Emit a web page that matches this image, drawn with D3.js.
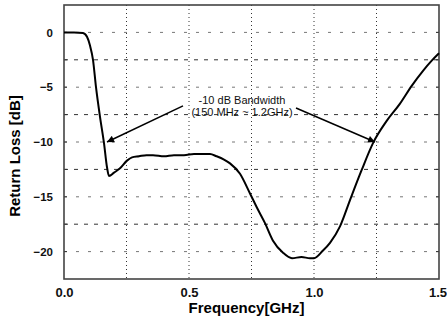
<!DOCTYPE html>
<html>
<head>
<meta charset="utf-8">
<script src="https://cdn.jsdelivr.net/npm/d3@7"></script>
<style>
  body { margin: 0; background: #fff; }
  text { font-family: "Liberation Sans", Arial, sans-serif; }
</style>
</head>
<body>
<div id="chart"></div>
<script>
const freq = [0, 0.04, 0.076, 0.092, 0.104, 0.116, 0.128, 0.144, 0.16, 0.172, 0.18, 0.2, 0.224, 0.252, 0.272,
    0.30, 0.33, 0.356, 0.40, 0.44, 0.48, 0.52, 0.56, 0.584, 0.61, 0.64, 0.664, 0.704, 0.744, 0.772, 0.804,
    0.836, 0.876, 0.912, 0.95, 0.984, 1.0, 1.036, 1.064, 1.104, 1.144, 1.19, 1.236, 1.29, 1.344, 1.39, 1.436, 1.47, 1.5]
const returnLoss = [0, 0, -0.05, -0.4, -1.2, -2.5, -5, -7.7, -10.1, -12.3, -13.1, -12.8, -12.4, -11.7, -11.4,
    -11.3, -11.2, -11.2, -11.3, -11.2, -11.2, -11.1, -11.1, -11.1, -11.3, -11.6, -11.95, -12.9, -14.7, -16.0, -17.4,
    -19.0, -20.1, -20.6, -20.5, -20.6, -20.6, -19.9, -19.2, -17.7, -15.3, -12.6, -10.1, -8.1, -6.5, -4.9, -3.5, -2.6, -1.9]

const xTicks = [0, 0.5, 1.0, 1.5]
const xGrid = [0.25, 0.5, 0.75, 1.0, 1.25]
const yTicks = [0, -5, -10, -15, -20]
const yMinorGrid = [-2.5, -7.5, -12.5, -17.5]

const annoLines = ["-10 dB Bandwidth", "(150 MHz ~ 1.2GHz)"]
// arrows: [fromF, fromDb, toF, toDb]
const arrows = [[0.476, -6.7, 0.172, -10], [0.928, -6.9, 1.244, -10]]

const margin = { top: 5, right: 8, bottom: 50, left: 64 },
    width = 447 - margin.left - margin.right,
    height = 329 - margin.top - margin.bottom;

const svg = d3.select("#chart")
    .append("svg")
    .attr("width", width + margin.left + margin.right)
    .attr("height", height + margin.top + margin.bottom)
    .append("g")
    .attr("transform", "translate(" + margin.left + "," + margin.top + ")");

const x = d3.scaleLinear().domain([0, 1.5]).range([0, width])
const y = d3.scaleLinear().domain([-22.5, 2.5]).range([height, 0])

// grid
svg.selectAll(".vgrid").data(xGrid).enter().append("line")
    .attr("x1", d => x(d)).attr("x2", d => x(d))
    .attr("y1", 0).attr("y2", height)
    .attr("stroke", "#333").attr("stroke-width", 1)
    .attr("stroke-dasharray", "1,3")
svg.selectAll(".hgrid").data(yTicks).enter().append("line")
    .attr("x1", 0).attr("x2", width)
    .attr("y1", d => y(d)).attr("y2", d => y(d))
    .attr("stroke", "#777").attr("stroke-width", 1)
    .attr("stroke-dasharray", "3,9")
svg.selectAll(".hgrid2").data(yMinorGrid).enter().append("line")
    .attr("x1", 0).attr("x2", width)
    .attr("y1", d => y(d)).attr("y2", d => y(d))
    .attr("stroke", "#333").attr("stroke-width", 1)
    .attr("stroke-dasharray", "4,6")

// axes
const yAxis = svg.append("g")
    .call(d3.axisLeft(y).tickValues(yTicks).tickSize(0).tickPadding(11).tickFormat(d3.format("d")))
yAxis.select(".domain").remove()
yAxis.selectAll("text").attr("font-size", 11.5).attr("font-weight", "bold").attr("fill", "#111")

const xAxis = svg.append("g")
    .attr("transform", `translate(0, ${height})`)
    .call(d3.axisBottom(x).tickValues(xTicks).tickSize(0).tickPadding(9).tickFormat(d3.format(".1f")))
xAxis.select(".domain").remove()
xAxis.selectAll("text").attr("font-size", 13).attr("font-weight", "bold").attr("fill", "#111")
// last label sits against the right edge
xAxis.selectAll("text").filter(d => d === 1.5).attr("dx", "-1.5")

// inner ticks on both sides
const sideTicks = yTicks.concat(yMinorGrid)
svg.selectAll(".ltick").data(sideTicks).enter().append("line")
    .attr("x1", 0).attr("x2", 3).attr("y1", d => y(d)).attr("y2", d => y(d))
    .attr("stroke", "#333")
svg.selectAll(".rtick").data(sideTicks).enter().append("line")
    .attr("x1", width - 3).attr("x2", width).attr("y1", d => y(d)).attr("y2", d => y(d))
    .attr("stroke", "#333")

// frame
svg.append("rect")
    .attr("width", width).attr("height", height)
    .attr("fill", "none").attr("stroke", "#444").attr("stroke-width", 1.6)

// curve
const points = freq.map((f, i) => [f, returnLoss[i]])
svg.append("path")
    .datum(points)
    .attr("fill", "none")
    .attr("stroke", "#000")
    .attr("stroke-width", 2)
    .attr("d", d3.line().x(d => x(d[0])).y(d => y(d[1])).curve(d3.curveMonotoneX))

// annotation
svg.append("defs").append("marker")
    .attr("id", "arrow")
    .attr("viewBox", "0 0 10 10")
    .attr("refX", 10).attr("refY", 5)
    .attr("markerWidth", 9).attr("markerHeight", 7)
    .attr("markerUnits", "userSpaceOnUse")
    .attr("orient", "auto")
    .append("path").attr("d", "M0,0L10,5L0,10z").attr("fill", "#000")

svg.selectAll(".arrow").data(arrows).enter().append("line")
    .attr("x1", d => x(d[0])).attr("y1", d => y(d[1]))
    .attr("x2", d => x(d[2])).attr("y2", d => y(d[3]))
    .attr("stroke", "#000").attr("stroke-width", 1.5)
    .attr("marker-end", "url(#arrow)")

svg.selectAll(".anno").data(annoLines).enter().append("text")
    .attr("x", x(0.712))
    .attr("y", (d, i) => y(-6.5) + i * 12)
    .attr("text-anchor", "middle")
    .attr("font-size", 11)
    .attr("fill", "#111")
    .text(d => d)

// axis titles
svg.append("text")
    .attr("x", width / 2 - 5)
    .attr("y", height + 34)
    .attr("text-anchor", "middle")
    .attr("font-size", 15)
    .attr("font-weight", "bold")
    .text("Frequency[GHz]")

svg.append("text")
    .attr("transform", `translate(${-margin.left + 20}, ${height / 2 + 14}) rotate(-90)`)
    .attr("text-anchor", "middle")
    .attr("font-size", 15)
    .attr("font-weight", "bold")
    .text("Return Loss [dB]")
</script>
</body>
</html>
